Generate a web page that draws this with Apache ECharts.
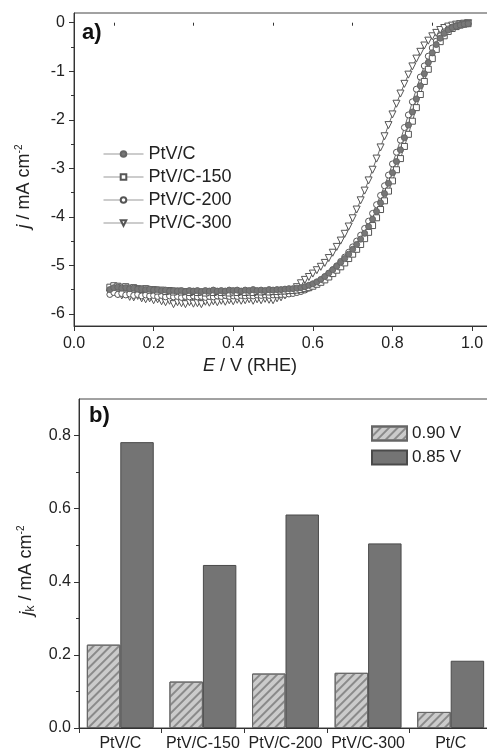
<!DOCTYPE html>
<html>
<head>
<meta charset="utf-8">
<script src="https://cdn.jsdelivr.net/npm/echarts@6/dist/echarts.min.js"></script>
<style>
html,body{margin:0;padding:0;background:#fff;}
#chart{width:487px;height:751px;}
</style>
</head>
<body>
<div id="chart"></div>
<script>
// ---------- Panel a) data ----------
const E = [0.09,0.10,0.11,0.12,0.13,0.14,0.15,0.16,0.17,0.18,0.19,0.20,0.21,0.22,0.23,0.24,0.25,0.26,0.27,0.28,0.29,
0.30,0.31,0.32,0.33,0.34,0.35,0.36,0.37,0.38,0.39,0.40,0.41,0.42,0.43,0.44,0.45,0.46,0.47,0.48,0.49,
0.50,0.51,0.52,0.53,0.54,0.55,0.56,0.57,0.58,0.59,0.60,0.61,0.62,0.63,0.64,0.65,0.66,0.67,0.68,0.69,
0.70,0.71,0.72,0.73,0.74,0.75,0.76,0.77,0.78,0.79,0.80,0.81,0.82,0.83,0.84,0.85,0.86,0.87,0.88,0.89,
0.90,0.91,0.92,0.93,0.94,0.95,0.96,0.97,0.98,0.99];

const jPtVC = [-5.50,-5.46,-5.45,-5.47,-5.46,-5.48,-5.47,-5.49,-5.48,-5.50,-5.49,-5.51,-5.50,-5.52,-5.51,-5.53,-5.52,-5.53,-5.52,-5.54,-5.52,
-5.53,-5.52,-5.54,-5.52,-5.53,-5.51,-5.53,-5.52,-5.53,-5.51,-5.52,-5.51,-5.53,-5.51,-5.52,-5.50,-5.52,-5.51,-5.52,-5.50,
-5.51,-5.50,-5.50,-5.49,-5.48,-5.48,-5.47,-5.46,-5.44,-5.41,-5.38,-5.34,-5.29,-5.23,-5.16,-5.09,-5.02,-4.94,-4.86,-4.77,
-4.67,-4.57,-4.46,-4.34,-4.20,-4.05,-3.89,-3.71,-3.52,-3.31,-3.09,-2.86,-2.62,-2.37,-2.11,-1.84,-1.57,-1.30,-1.05,-0.82,
-0.62,-0.45,-0.32,-0.22,-0.15,-0.10,-0.07,-0.05,-0.03,-0.02];

const jPtVC150 = [-5.45,-5.42,-5.43,-5.45,-5.44,-5.47,-5.46,-5.48,-5.50,-5.48,-5.51,-5.50,-5.53,-5.51,-5.54,-5.52,-5.55,-5.53,-5.55,-5.54,-5.56,
-5.54,-5.56,-5.55,-5.57,-5.55,-5.56,-5.54,-5.56,-5.55,-5.57,-5.55,-5.56,-5.54,-5.56,-5.55,-5.56,-5.54,-5.55,-5.54,-5.55,
-5.54,-5.54,-5.53,-5.53,-5.52,-5.52,-5.51,-5.50,-5.48,-5.46,-5.43,-5.39,-5.35,-5.30,-5.24,-5.17,-5.10,-5.03,-4.95,-4.86,
-4.77,-4.67,-4.57,-4.45,-4.32,-4.18,-4.02,-3.85,-3.67,-3.47,-3.26,-3.03,-2.80,-2.55,-2.30,-2.03,-1.75,-1.48,-1.21,-0.96,
-0.74,-0.55,-0.39,-0.27,-0.18,-0.12,-0.08,-0.05,-0.03,-0.02];

const jPtVC200 = [-5.60,-5.56,-5.60,-5.58,-5.61,-5.59,-5.62,-5.60,-5.63,-5.61,-5.63,-5.62,-5.64,-5.62,-5.65,-5.63,-5.65,-5.64,-5.66,-5.64,-5.65,
-5.63,-5.65,-5.64,-5.66,-5.64,-5.65,-5.63,-5.64,-5.62,-5.64,-5.63,-5.64,-5.62,-5.63,-5.62,-5.63,-5.61,-5.62,-5.61,-5.62,
-5.61,-5.61,-5.60,-5.60,-5.59,-5.58,-5.56,-5.54,-5.51,-5.47,-5.42,-5.37,-5.31,-5.24,-5.17,-5.09,-5.01,-4.92,-4.83,-4.73,
-4.62,-4.50,-4.38,-4.24,-4.09,-3.93,-3.75,-3.56,-3.36,-3.14,-2.91,-2.67,-2.42,-2.16,-1.90,-1.63,-1.37,-1.12,-0.89,-0.69,
-0.52,-0.38,-0.27,-0.19,-0.13,-0.09,-0.06,-0.04,-0.03,-0.02];

const jPtVC300 = [-5.58,-5.52,-5.60,-5.62,-5.60,-5.65,-5.66,-5.63,-5.68,-5.70,-5.68,-5.72,-5.70,-5.74,-5.76,-5.73,-5.80,-5.76,-5.78,-5.80,-5.76,
-5.79,-5.78,-5.80,-5.75,-5.77,-5.74,-5.76,-5.73,-5.75,-5.72,-5.74,-5.71,-5.73,-5.72,-5.70,-5.73,-5.70,-5.72,-5.69,-5.71,
-5.72,-5.68,-5.66,-5.62,-5.58,-5.52,-5.45,-5.37,-5.30,-5.24,-5.17,-5.10,-5.03,-4.95,-4.85,-4.74,-4.62,-4.49,-4.35,-4.20,
-4.03,-3.85,-3.66,-3.46,-3.25,-3.03,-2.80,-2.57,-2.34,-2.11,-1.89,-1.67,-1.46,-1.26,-1.07,-0.90,-0.74,-0.60,-0.47,-0.37,
-0.28,-0.21,-0.15,-0.11,-0.08,-0.06,-0.04,-0.03,-0.02,-0.01];

const seriesNamesA = ['PtV/C','PtV/C-150','PtV/C-200','PtV/C-300'];
const xTicksA = [0, 0.2, 0.4, 0.6, 0.8, 1.0];
const xMinorA = [0.1, 0.3, 0.5, 0.7, 0.9];
const yTicksA = [-6, -5, -4, -3, -2, -1, 0];
const yMinorA = [-5.5, -4.5, -3.5, -2.5, -1.5, -0.5];

// ---------- Panel b) data ----------
const categoriesB = ['PtV/C','PtV/C-150','PtV/C-200','PtV/C-300','Pt/C'];
const jk090 = [0.228, 0.127, 0.149, 0.151, 0.044];
const jk085 = [0.782, 0.446, 0.584, 0.505, 0.184];
const yTicksB = [0, 0.2, 0.4, 0.6, 0.8];
const yMinorB = [0.1, 0.3, 0.5, 0.7];

// ---------- styling ----------
const FONT = '"Liberation Sans", Arial, Helvetica, sans-serif';
const TXT = '#222';
const AX = '#333';

const pairs = arr => E.map((e, i) => [e, arr[i]]);

const lineBase = {
  type: 'line', xAxisIndex: 0, yAxisIndex: 0,
  lineStyle: { color: '#444', width: 0.8 },
  symbolSize: 6,
  animation: false,
  emphasis: { disabled: true }
};

const chart = echarts.init(document.getElementById('chart'), null, { renderer: 'canvas' });

const gridA = { left: 74, top: 13, right: -5, height: 313 };
const gridB = { left: 79, top: 399, right: -5, height: 329 };

const richName = {
  i: { fontStyle: 'italic', fontSize: 18, fontFamily: FONT, color: TXT },
  sup: { fontSize: 10, fontFamily: FONT, color: TXT, padding: [0, 0, 10, 0] },
  sub: { fontSize: 12, fontFamily: FONT, color: TXT, padding: [9, 0, 0, 0] }
};

const option = {
  backgroundColor: '#fff',
  animation: false,
  textStyle: { fontFamily: FONT, color: TXT },
  title: [
    { text: 'a)', left: 77, top: 17, padding: 5, textStyle: { fontSize: 22, fontWeight: 'bold', color: '#111', fontFamily: FONT } },
    { text: 'b)', left: 84, top: 400, padding: 5, textStyle: { fontSize: 22, fontWeight: 'bold', color: '#111', fontFamily: FONT } }
  ],
  grid: [
    Object.assign({ show: true, borderColor: '#444', borderWidth: 1, backgroundColor: 'transparent', outerBoundsMode: 'none', containLabel: false }, gridA),
    Object.assign({ show: false, outerBoundsMode: 'none', containLabel: false }, gridA),
    Object.assign({ show: true, borderColor: '#444', borderWidth: 1, backgroundColor: 'transparent', outerBoundsMode: 'none', containLabel: false }, gridB),
    Object.assign({ show: false, outerBoundsMode: 'none', containLabel: false }, gridB)
  ],
  legend: [
    {
      data: seriesNamesA, orient: 'vertical', left: 98, top: 140,
      itemWidth: 40, itemHeight: 7, itemGap: 5,
      lineStyle: { color: '#999', width: 1 },
      textStyle: { fontSize: 18, color: TXT, fontFamily: FONT, lineHeight: 18 },
      selectedMode: false
    },
    {
      data: ['0.90 V', '0.85 V'], orient: 'vertical', left: 366, top: 420,
      itemWidth: 35, itemHeight: 14, itemGap: 7, icon: 'rect',
      textStyle: { fontSize: 17, color: TXT, fontFamily: FONT, lineHeight: 14 },
      selectedMode: false
    }
  ],
  xAxis: [
    {
      type: 'value', gridIndex: 0, min: 0, max: 1.05,
      axisLine: { show: true, onZero: false, lineStyle: { color: AX, width: 1 } },
      axisTick: { show: true, inside: false, length: 5, customValues: xTicksA, lineStyle: { color: AX } },
      axisLabel: { customValues: xTicksA, formatter: v => v.toFixed(1), fontSize: 16, color: TXT, margin: 10, fontFamily: FONT },
      splitLine: { show: false },
      name: '{i|E} / V (RHE)', nameLocation: 'middle', nameGap: 31,
      nameTextStyle: { fontSize: 18, color: TXT, fontFamily: FONT, padding: [0, 66, 0, 0], rich: richName }
    },
    {
      type: 'value', gridIndex: 1, min: 0, max: 1.05,
      axisLine: { show: false },
      axisTick: { show: true, inside: false, length: 3, customValues: xMinorA, lineStyle: { color: AX } },
      axisLabel: { show: false }, splitLine: { show: false }
    },
    {
      type: 'category', gridIndex: 2, data: categoriesB, boundaryGap: true,
      axisLine: { show: true, onZero: false, lineStyle: { color: AX, width: 1 } },
      axisTick: { show: true, inside: false, length: 5, alignWithLabel: false, lineStyle: { color: AX } },
      axisLabel: { interval: 0, fontSize: 16, color: TXT, margin: 8, fontFamily: FONT },
      splitLine: { show: false }
    },
    {
      type: 'category', gridIndex: 3, data: categoriesB, show: false
    }
  ],
  yAxis: [
    {
      type: 'value', gridIndex: 0, min: -6.25, max: 0.2,
      axisLine: { show: true, onZero: false, lineStyle: { color: AX, width: 1 } },
      axisTick: { show: true, inside: false, length: 5, customValues: yTicksA, lineStyle: { color: AX } },
      axisLabel: { customValues: yTicksA, fontSize: 16, color: TXT, margin: 9, fontFamily: FONT },
      splitLine: { show: false },
      name: '{i|j} / mA cm{sup|-2}', nameLocation: 'middle', nameGap: 40, nameRotate: 90,
      nameTextStyle: { fontSize: 18, color: TXT, fontFamily: FONT, padding: [0, 34, 0, 0], rich: richName }
    },
    {
      type: 'value', gridIndex: 1, min: -6.25, max: 0.2,
      axisLine: { show: false },
      axisTick: { show: true, inside: false, length: 3, customValues: yMinorA, lineStyle: { color: AX } },
      axisLabel: { show: false }, splitLine: { show: false }
    },
    {
      type: 'value', gridIndex: 2, min: 0, max: 0.9,
      axisLine: { show: true, onZero: false, lineStyle: { color: AX, width: 1 } },
      axisTick: { show: true, inside: false, length: 5, customValues: yTicksB, lineStyle: { color: AX } },
      axisLabel: { customValues: yTicksB, formatter: v => v.toFixed(1), fontSize: 16, color: TXT, margin: 8, fontFamily: FONT },
      splitLine: { show: false },
      name: '{i|j}{sub|k} / mA cm{sup|-2}', nameLocation: 'middle', nameGap: 42, nameRotate: 90,
      nameTextStyle: { fontSize: 18, color: TXT, fontFamily: FONT, padding: [0, 14, 0, 0], rich: richName }
    },
    {
      type: 'value', gridIndex: 3, min: 0, max: 0.9,
      axisLine: { show: false },
      axisTick: { show: true, inside: false, length: 3, customValues: yMinorB, lineStyle: { color: AX } },
      axisLabel: { show: false }, splitLine: { show: false }
    }
  ],
  series: [
    Object.assign({}, lineBase, {
      name: 'PtV/C-300', data: pairs(jPtVC300), symbol: 'triangle', symbolRotate: 180, symbolSize: 7,
      itemStyle: { color: '#fff', borderColor: '#555', borderWidth: 1 }
    }),
    Object.assign({}, lineBase, {
      name: 'PtV/C-200', data: pairs(jPtVC200), symbol: 'circle',
      itemStyle: { color: '#fff', borderColor: '#555', borderWidth: 1 }
    }),
    Object.assign({}, lineBase, {
      name: 'PtV/C-150', data: pairs(jPtVC150), symbol: 'rect', symbolSize: 6,
      itemStyle: { color: '#fff', borderColor: '#555', borderWidth: 1 }
    }),
    Object.assign({}, lineBase, {
      name: 'PtV/C', data: pairs(jPtVC), symbol: 'circle',
      itemStyle: { color: '#777', borderColor: '#666', borderWidth: 1 }
    }),
    {
      type: 'bar', name: '0.90 V', xAxisIndex: 2, yAxisIndex: 2, data: jk090,
      barGap: '0%', barCategoryGap: '19%',
      itemStyle: {
        color: '#cbcbcb', borderColor: '#666', borderWidth: 1,
        decal: { symbol: 'rect', symbolSize: 1, dashArrayX: [1, 0], dashArrayY: [1.5, 3.5], rotation: -Math.PI / 4, color: '#8a8a8a' }
      },
      emphasis: { disabled: true }
    },
    {
      type: 'bar', name: '0.85 V', xAxisIndex: 2, yAxisIndex: 2, data: jk085,
      barGap: '0%', barCategoryGap: '19%',
      itemStyle: { color: '#747474', borderColor: '#4a4a4a', borderWidth: 1 },
      emphasis: { disabled: true }
    }
  ]
};

chart.setOption(option);
</script>
</body>
</html>
